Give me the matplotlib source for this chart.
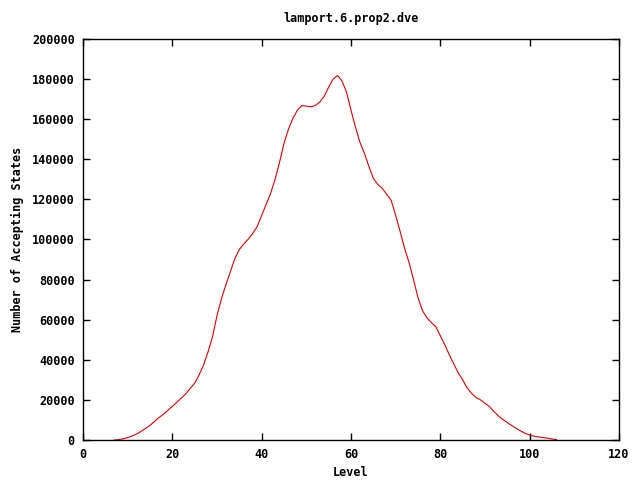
import matplotlib
matplotlib.use('Agg')
import matplotlib.pyplot as plt

# ---------------- Data ------------------

levels = list(range(7, 107))

states = [
    0, 200, 600, 1200, 2000, 3000, 4300, 5800, 7300, 9200,            # 7-16
    11200, 12800, 14800, 16800, 18800, 20900, 23000, 25800, 28300, 32500,  # 17-26
    37500, 44000, 51500, 62000, 70500, 77500, 84000, 90500, 95000, 97800,  # 27-36
    100200, 103000, 106500, 112000, 117500, 123000, 130000, 138500, 148000, 155000,  # 37-46
    160500, 164500, 166800, 166500, 166200, 166800, 168500, 171500, 176000, 180000,  # 47-56
    181800, 179000, 173500, 164500, 156000, 148500, 143000, 136500, 130500, 127500,  # 57-66
    125500, 122500, 119500, 112000, 104000, 95500, 88500, 80000, 71000, 64500,  # 67-76
    61000, 58500, 56500, 52000, 47500, 42500, 38000, 33500, 30000, 26000,  # 77-86
    23200, 21200, 20000, 18300, 16700, 14200, 12000, 10200, 8700, 7200,  # 87-96
    5800, 4500, 3300, 2500, 1900, 1500, 1200, 900, 500, 200,  # 97-106
]

xTicks = list(range(0, 121, 20))
yTicks = list(range(0, 200001, 20000))

# ---------------- Plot ------------------

plt.rcParams['font.family'] = ['DejaVu Sans Mono']
plt.rcParams['font.weight'] = 'bold'
plt.rcParams['font.size'] = 8.5

fig = plt.figure(figsize=(6.4, 4.8), dpi=100)
ax = fig.add_axes([83 / 640, 40 / 480, (619 - 83) / 640, (440 - 39) / 480])

ax.plot(levels, states, color='#e00000', linewidth=0.8)

ax.set_xlim(0, 120)
ax.set_ylim(0, 200000)
ax.set_xticks(xTicks)
ax.set_yticks(yTicks)
ax.set_yticklabels([str(v) for v in yTicks])
ax.tick_params(direction='in', length=5, width=1, top=True, right=True, pad=6)

for spine in ax.spines.values():
    spine.set_linewidth(1)

ax.set_title('lamport.6.prop2.dve', fontsize=8.5, fontweight='bold', pad=12)
ax.set_xlabel('Level', fontweight='bold', labelpad=3)
ax.set_ylabel('Number of Accepting States', fontweight='bold', labelpad=6)

fig.savefig('out.png', dpi=100)
